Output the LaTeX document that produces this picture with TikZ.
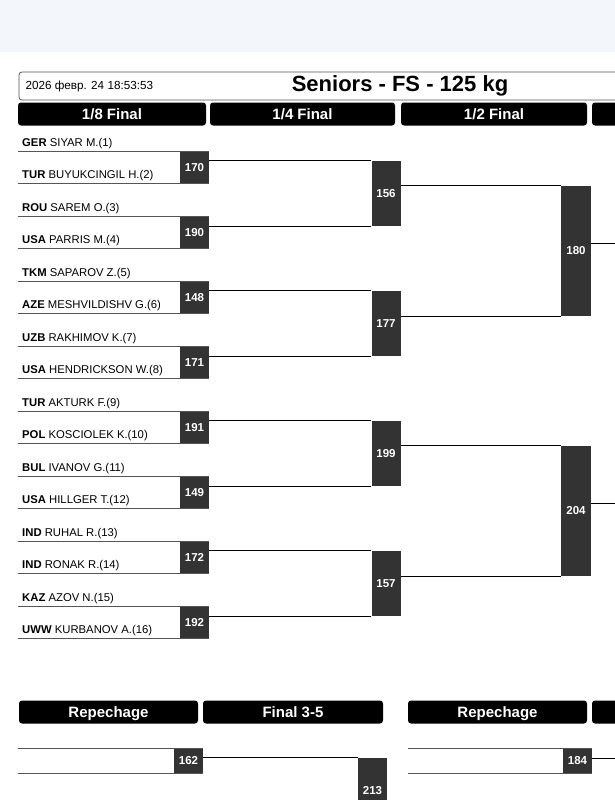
\documentclass[tikz,border=0pt]{standalone}
\usepackage{fontspec}
\setmainfont{Liberation Sans}
\usepackage{xcolor}
\definecolor{bandblue}{RGB}{243,246,251}
\definecolor{boxgray}{RGB}{51,51,51}
\definecolor{linegray}{RGB}{85,85,85}

\begin{document}
\begin{tikzpicture}[x=1pt,y=-1pt,
  colhead/.style={fill=black,rounded corners=3pt,text=white,inner sep=0pt,
                  text height=11pt,text depth=0pt,
                  font=\fontsize{15}{16}\selectfont\bfseries,minimum height=23pt},
  mbox/.style={fill=boxgray,text=white,inner sep=0pt,minimum width=29pt,
               font=\fontsize{11.5}{12}\selectfont\bfseries},
  wname/.style={anchor=base west,inner sep=0pt,font=\fontsize{11.3}{12}\selectfont},
  nline/.style={linegray,line width=1.2pt},
  conn/.style={black,line width=1pt}
]
\useasboundingbox (0,0) rectangle (615,800);
\clip (0,0) rectangle (615,800);
\fill[bandblue] (0,0) rectangle (615,52);

% title bar
\node[draw=linegray,line width=0.8pt,rounded corners=3pt,minimum width=681pt,
      minimum height=28pt] (head) at (359.5,86) {};
\node[anchor=west,font=\fontsize{11.7}{14}\selectfont] (date) at (22,86) {2026 февр. 24 18:53:53};
\node[font=\fontsize{22}{24}\selectfont\bfseries] (title) at (400,86) {Seniors - FS - 125 kg};

% round headers
\node[colhead,minimum width=188pt] (h8)  at (112,114)   {1/8 Final};
\node[colhead,minimum width=185pt] (h4)  at (302.5,114) {1/4 Final};
\node[colhead,minimum width=186pt] (h2)  at (494,114)   {1/2 Final};
\node[colhead,minimum width=186pt] (h1)  at (685,114)   {};

% 1/8 final
\coordinate (lft) at (18,0);
\foreach \i/\num/\ca/\na/\cb/\nb in {
  0/170/GER/SIYAR M.(1)/TUR/BUYUKCINGIL H.(2),
  1/190/ROU/SAREM O.(3)/USA/PARRIS M.(4),
  2/148/TKM/SAPAROV Z.(5)/AZE/MESHVILDISHV G.(6),
  3/171/UZB/RAKHIMOV K.(7)/USA/HENDRICKSON W.(8),
  4/191/TUR/AKTURK F.(9)/POL/KOSCIOLEK K.(10),
  5/149/BUL/IVANOV G.(11)/USA/HILLGER T.(12),
  6/172/IND/RUHAL R.(13)/IND/RONAK R.(14),
  7/192/KAZ/AZOV N.(15)/UWW/KURBANOV A.(16)}{
  \node[mbox,minimum height=32pt] (m\num) at (194.5,{167.5+65*\i}) {\num};
  \node[wname] (w\num-a) at (22,{146+65*\i}) {\textbf{\ca} \na};
  \node[wname] (w\num-b) at (22,{178+65*\i}) {\textbf{\cb} \nb};
  \draw[nline] (m\num.north east) -- (m\num.north east -| lft);
  \draw[nline] (m\num.south east) -- (m\num.south east -| lft);
}

% 1/4 final
\node[mbox,minimum height=65pt] (m156) at (386,193.5) {156};
\node[mbox,minimum height=65pt] (m177) at (386,323.5) {177};
\node[mbox,minimum height=65pt] (m199) at (386,453.5) {199};
\node[mbox,minimum height=65pt] (m157) at (386,583.5) {157};
\draw[conn] (m156.north west) -- (m156.north west -| m170.east);
\draw[conn] (m156.south west) -- (m156.south west -| m190.east);
\draw[conn] (m177.north west) -- (m177.north west -| m148.east);
\draw[conn] (m177.south west) -- (m177.south west -| m171.east);
\draw[conn] (m199.north west) -- (m199.north west -| m191.east);
\draw[conn] (m199.south west) -- (m199.south west -| m149.east);
\draw[conn] (m157.north west) -- (m157.north west -| m172.east);
\draw[conn] (m157.south west) -- (m157.south west -| m192.east);

% 1/2 final
\node[mbox,minimum width=30pt,minimum height=130pt] (m180) at (576,251) {180};
\node[mbox,minimum width=30pt,minimum height=130pt] (m204) at (576,511) {204};
\draw[conn] (m180.north west) -- (m180.north west -| m156.east);
\draw[conn] (m180.south west) -- (m180.south west -| m177.east);
\draw[conn] (m204.north west) -- (m204.north west -| m199.east);
\draw[conn] (m204.south west) -- (m204.south west -| m157.east);
\coordinate (r180) at (615,243);
\coordinate (r204) at (615,503);
\draw[conn] (m180.east |- r180) -- (r180);
\draw[conn] (m204.east |- r204) -- (r204);

% repechage
\node[colhead,minimum width=179pt] (hrep1) at (108.5,712) {Repechage};
\node[colhead,minimum width=180pt] (hf35)  at (293,712)   {Final 3-5};
\node[colhead,minimum width=179pt] (hrep2) at (497.5,712) {Repechage};
\node[colhead,minimum width=186pt] (hf35b) at (685,712)   {};

\node[mbox,minimum height=24pt] (m162) at (188.5,761) {162};
\draw[nline] (m162.north east) -- (m162.north east -| lft);
\draw[nline] (m162.south east) -- (m162.south east -| lft);
\node[mbox,minimum height=65pt] (m213) at (372.5,790.5) {213};
\draw[conn] (m213.north west) -- (m213.north west -| m162.east);

\coordinate (lft2) at (408,0);
\node[mbox,minimum height=24pt] (m184) at (577.5,761) {184};
\draw[nline] (m184.north east) -- (m184.north east -| lft2);
\draw[nline] (m184.south east) -- (m184.south east -| lft2);
\coordinate (r184) at (615,758);
\draw[conn] (m184.east |- r184) -- (r184);
\end{tikzpicture}
\end{document}
